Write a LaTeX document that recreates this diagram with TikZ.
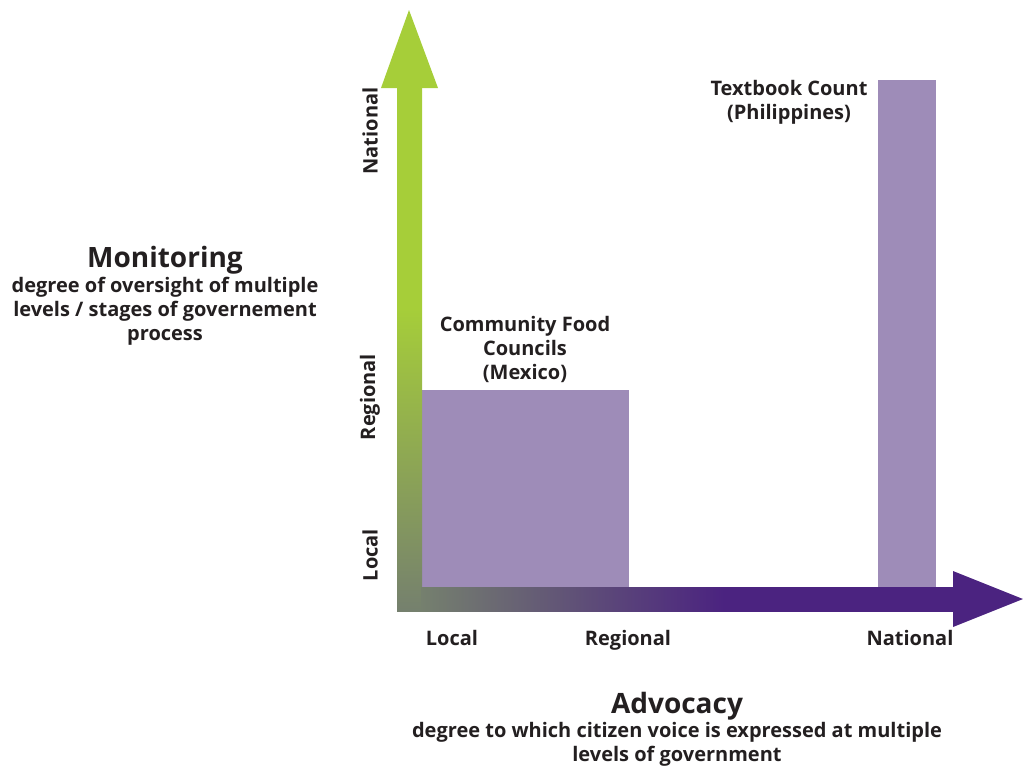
\documentclass[tikz,border=0pt]{standalone}
\usepackage{fontspec}
\setmainfont{Open Sans}
\usetikzlibrary{shapes.geometric}
\definecolor{lime}{HTML}{A6CE39}
\definecolor{mid}{HTML}{75806E}
\definecolor{purp}{HTML}{4B2380}
\definecolor{bar}{HTML}{9E8CB8}
\definecolor{txt}{HTML}{231F20}
\pgfdeclarehorizontalshading{hshade}{100bp}{color(0bp)=(mid); color(25bp)=(mid); color(53.4bp)=(purp); color(100bp)=(purp)}
\pgfdeclareverticalshading{vshade}{100bp}{color(0bp)=(mid); color(25bp)=(mid); color(54bp)=(lime); color(100bp)=(lime)}
\begin{document}
\begin{tikzpicture}[x=0.75pt,y=-0.75pt,
  lbl/.style={font=\bfseries\fontsize{15}{18}\selectfont,text=txt,align=center,inner sep=0pt},
  ttl/.style={font=\bfseries\fontsize{21}{26}\selectfont,text=txt,inner sep=0pt},
  ylbl/.style={lbl,rotate=90}]
\useasboundingbox (0,0) rectangle (1023,765);
% bars
\fill[bar] (422,390) rectangle (629,587);
\fill[bar] (878,80) rectangle (936,587);
% vertical axis
\shade[shading=vshade] (397,87) rectangle (422,611);
\fill[lime] (381,88) -- (409,10) -- (438,88) -- cycle;
% horizontal axis
\shade[shading=hshade] (421,587) rectangle (954,611);
\fill[purp] (953,571) -- (1023,599) -- (953,627) -- cycle;
% y labels
\node[ylbl] (yn) at (370,131) {National};
\node[ylbl] (yr) at (370,397) {Regional};
\node[ylbl] (yl) at (370,555) {Local};
% x labels
\node[lbl,anchor=base] (xl) at (452,645) {Local};
\node[lbl,anchor=base] (xr) at (628,645) {Regional};
\node[lbl,anchor=base] (xn) at (910,645) {National};
% bar labels
\node[lbl,anchor=base] (tb) at (789,119) {Textbook Count\\(Philippines)};
\node[lbl,anchor=base] (cf) at (525,379) {Community Food\\Councils\\(Mexico)};
% titles
\node[ttl,anchor=base] (mon) at (165,267) {Monitoring};
\node[lbl,anchor=base] (mons) at (165,340) {degree of oversight of multiple\\levels / stages of governement\\process};
\node[ttl,anchor=base] (adv) at (677,713) {Advocacy};
\node[lbl,anchor=base] (advs) at (677,761) {degree to which citizen voice is expressed at multiple\\levels of government};
\end{tikzpicture}
\end{document}
